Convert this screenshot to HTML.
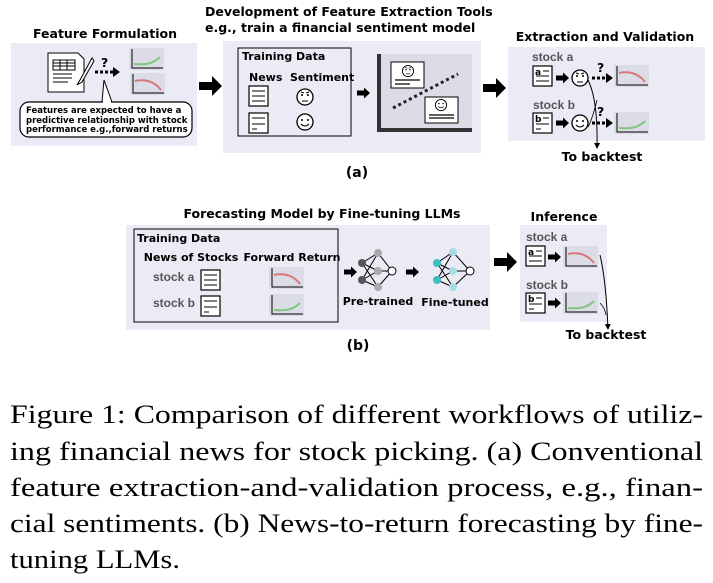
<!DOCTYPE html>
<html><head><meta charset="utf-8"><style>
html,body{margin:0;padding:0;background:#fff;width:713px;height:583px;overflow:hidden}
svg{display:block}
.t{font-family:"DejaVu Sans",sans-serif;font-weight:bold;font-size:12.5px;fill:#000}
.s{font-family:"Liberation Sans",sans-serif;font-weight:bold;font-size:12px;fill:#555}
.c{font-family:"Liberation Serif","Times New Roman",serif;font-size:26px;fill:#000}
</style></head><body>
<svg width="713" height="583" viewBox="0 0 713 583" xmlns="http://www.w3.org/2000/svg">
<defs>
<marker id="ah" markerWidth="6" markerHeight="6" refX="5" refY="3" orient="auto"><path d="M0,0L6,3L0,6z" fill="#000"/></marker>
<g id="doc"><rect x="0" y="0" width="19" height="20" fill="#fff" stroke="#000" stroke-width="1.2"/><line x1="3" y1="5" x2="16" y2="5" stroke="#000"/><line x1="3" y1="10" x2="16" y2="10" stroke="#000"/><line x1="3" y1="15" x2="16" y2="15" stroke="#000"/></g>
<g id="doc2"><rect x="0" y="0" width="19" height="20" fill="#fff" stroke="#000" stroke-width="1.2"/><line x1="3" y1="5" x2="16" y2="5" stroke="#000"/><line x1="3" y1="11" x2="16" y2="11" stroke="#000"/><line x1="3" y1="16" x2="8" y2="16" stroke="#000"/></g>
<g id="chd"><rect x="0" y="0" width="35" height="22" fill="#dcdce6"/><path d="M3,1V20H34" fill="none" stroke="#000" stroke-width="1"/><path d="M5,8C15,6 24,8 31,17" fill="none" stroke="#d9777a" stroke-width="2"/></g>
<g id="chu"><rect x="0" y="0" width="35" height="22" fill="#dcdce6"/><path d="M3,1V20H34" fill="none" stroke="#000" stroke-width="1"/><path d="M5,16C16,17 24,16 31,9" fill="none" stroke="#7fc77f" stroke-width="2"/></g>
<g id="sad"><circle cx="0" cy="0" r="8" fill="#fff" stroke="#000" stroke-width="1.3"/><circle cx="-3" cy="-2" r="1" fill="#000"/><circle cx="3" cy="-2" r="1" fill="#000"/><path d="M-4,-5L-1,-4M4,-5L1,-4M-3,4H3" stroke="#000" fill="none"/></g>
<g id="hap"><circle cx="0" cy="0" r="8" fill="#fff" stroke="#000" stroke-width="1.3"/><circle cx="-3" cy="-2" r="1" fill="#000"/><circle cx="3" cy="-2" r="1" fill="#000"/><path d="M-4,2Q0,6 4,2" stroke="#000" fill="none"/></g>
<g id="arr"><path d="M0,-2.5H7V-5.5L13,0L7,5.5V2.5H0z" fill="#000"/></g>
<g id="big"><path d="M0,-4H13V-10L23,0L13,10V4H0z" fill="#000"/></g>
</defs>

<text class="t" x="105" y="38" text-anchor="middle">Feature Formulation</text>
<rect x="11" y="43" width="186" height="103" fill="#ebebf6"/>
<path d="M48,53H78L84,59V92H48z" fill="#fff" stroke="#000"/>
<rect x="53" y="60" width="22" height="10" fill="#fff" stroke="#000"/>
<path d="M53,63H75M53,66H75M60,60V70M67,60V70M53,74H72M53,78H72M53,82H68" stroke="#000"/>
<path d="M92,58L80,80L77,85L82,82L94,61z" fill="#fff" stroke="#000"/>
<line x1="95" y1="72" x2="114" y2="72" stroke="#000" stroke-width="3" stroke-dasharray="3,2"/>
<path d="M113,67L120,72L113,77z" fill="#000"/>
<text class="t" x="101" y="67">?</text>
<use href="#chu" x="129" y="48"/>
<use href="#chd" x="130" y="73"/>
<path d="M102,102L104,80L112,102" fill="#fff" stroke="#000"/>
<rect x="20" y="102" width="172" height="35" rx="9" fill="#fff" stroke="#000" stroke-width="1.2"/>
<line x1="103" y1="102" x2="111" y2="102" stroke="#fff" stroke-width="2"/>
<text class="t" x="26" y="113" style="font-size:8.5px">Features are expected to have a</text>
<text class="t" x="26" y="123" style="font-size:8.5px">predictive relationship with stock</text>
<text class="t" x="26" y="132" style="font-size:8.5px">performance e.g.,forward returns</text>
<use href="#big" x="199" y="86"/>

<text class="t" x="205" y="16">Development of Feature Extraction Tools</text>
<text class="t" x="205" y="32">e.g., train a financial sentiment model</text>
<rect x="223" y="41" width="258" height="112" fill="#ebebf6"/>
<rect x="238" y="48" width="113" height="88" fill="none" stroke="#000"/>
<text class="t" x="242" y="60" style="font-size:11px">Training Data</text>
<text class="t" x="249" y="81" style="font-size:11px">News</text>
<text class="t" x="290" y="81" style="font-size:11px">Sentiment</text>
<use href="#doc" x="249" y="86"/>
<use href="#doc2" x="249" y="113"/>
<use href="#sad" x="305" y="97"/>
<use href="#hap" x="305" y="122"/>
<use href="#arr" x="357" y="93"/>
<rect x="377" y="54" width="95" height="78" fill="#dcdce6"/>
<path d="M379,54V130H472" fill="none" stroke="#333" stroke-width="4"/>
<rect x="391" y="62" width="33" height="26" fill="#fff" stroke="#000"/>
<use href="#sad" x="408" y="71" transform="translate(408 71) scale(0.7) translate(-408 -71)"/>
<path d="M395,80H420M395,84H410" stroke="#000" stroke-width="1.3"/>
<rect x="425" y="97" width="33" height="26" fill="#fff" stroke="#000"/>
<use href="#hap" x="441" y="105" transform="translate(441 105) scale(0.7) translate(-441 -105)"/>
<path d="M429,115H454M429,118H454" stroke="#000" stroke-width="1.3"/>
<line x1="393" y1="108" x2="458" y2="74" stroke="#222" stroke-width="3" stroke-dasharray="3,3"/>
<use href="#big" x="483" y="88"/>

<text class="t" x="605" y="41" text-anchor="middle">Extraction and Validation</text>
<rect x="508" y="47" width="197" height="94" fill="#ebebf6"/>
<text class="s" x="532" y="61">stock a</text>
<use href="#doc" x="533" y="66"/><rect x="535" y="67" width="8" height="8" fill="#fff"/><text class="t" x="535" y="75" style="font-size:9px">a</text>
<use href="#arr" x="556" y="78"/>
<use href="#sad" x="580" y="78"/>
<line x1="592" y1="78" x2="607" y2="78" stroke="#000" stroke-width="3" stroke-dasharray="3,2"/>
<path d="M606,73L613,78L606,83z" fill="#000"/>
<text class="t" x="597" y="72">?</text>
<use href="#chd" x="614" y="65"/>
<text class="s" x="533" y="109">stock b</text>
<use href="#doc2" x="533" y="113"/><rect x="535" y="114" width="8" height="8" fill="#fff"/><text class="t" x="535" y="122" style="font-size:9px">b</text>
<use href="#arr" x="556" y="123"/>
<use href="#hap" x="580" y="123"/>
<line x1="592" y1="123" x2="607" y2="123" stroke="#000" stroke-width="3" stroke-dasharray="3,2"/>
<path d="M606,118L613,123L606,128z" fill="#000"/>
<text class="t" x="597" y="116">?</text>
<use href="#chu" x="614" y="112"/>
<path d="M588,80Q598,100 597,148" fill="none" stroke="#000" marker-end="url(#ah)"/>
<path d="M588,127Q592,120 597,100" fill="none" stroke="#000" stroke-width="0.8"/>
<text class="t" x="602" y="161" text-anchor="middle">To backtest</text>
<text class="t" x="357" y="177" text-anchor="middle" style="font-size:14px">(a)</text>

<text class="t" x="322" y="218" text-anchor="middle">Forecasting Model by Fine-tuning LLMs</text>
<rect x="126" y="225" width="364" height="105" fill="#ebebf6"/>
<rect x="134" y="229" width="204" height="93" fill="none" stroke="#000"/>
<text class="t" x="137" y="242" style="font-size:11px">Training Data</text>
<text class="t" x="191" y="261" text-anchor="middle" style="font-size:11px">News of Stocks</text>
<text class="t" x="292" y="261" text-anchor="middle" style="font-size:11px">Forward Return</text>
<text class="s" x="153" y="281">stock a</text>
<use href="#doc" x="201" y="270"/>
<use href="#chd" x="269" y="267"/>
<text class="s" x="153" y="307">stock b</text>
<use href="#doc2" x="201" y="296"/>
<use href="#chu" x="269" y="294"/>
<use href="#arr" x="344" y="272"/>
<g stroke="#000" stroke-width="1">
<path d="M362,263L378,253M362,263L378,271M362,263L378,287M362,280L378,253M362,280L378,271M362,280L378,287M378,253L392,271M378,271L392,271M378,287L392,271"/>
<path d="M437,263L453,252M437,263L453,271M437,263L453,287M437,280L453,252M437,280L453,271M437,280L453,287M453,252L470,271M453,271L470,271M453,287L470,271"/>
</g>
<circle cx="362" cy="263" r="4" fill="#555"/><circle cx="362" cy="280" r="4" fill="#555"/>
<circle cx="378" cy="253" r="4" fill="#aaa"/><circle cx="378" cy="271" r="4" fill="#aaa"/><circle cx="378" cy="287" r="4" fill="#aaa"/>
<circle cx="392" cy="271" r="4" fill="#fff" stroke="#000"/>
<circle cx="437" cy="263" r="4" fill="#3bbfbf"/><circle cx="437" cy="280" r="4" fill="#3bbfbf"/>
<circle cx="453" cy="252" r="4" fill="#a8dde6"/><circle cx="453" cy="271" r="4" fill="#a8dde6"/><circle cx="453" cy="287" r="4" fill="#a8dde6"/>
<circle cx="470" cy="271" r="4" fill="#fff" stroke="#000"/>
<use href="#arr" x="406" y="272"/>
<text class="t" x="378" y="305" text-anchor="middle" style="font-size:11px">Pre-trained</text>
<text class="t" x="455" y="306" text-anchor="middle" style="font-size:11px">Fine-tuned</text>
<use href="#big" x="494" y="262"/>
<text class="t" x="564" y="221" text-anchor="middle">Inference</text>
<rect x="520" y="225" width="87" height="97" fill="#ebebf6"/>
<text class="s" x="526" y="241">stock a</text>
<use href="#doc" x="526" y="246"/><rect x="528" y="247" width="8" height="8" fill="#fff"/><text class="t" x="528" y="255" style="font-size:9px">a</text>
<use href="#arr" x="548" y="257"/>
<use href="#chd" x="563" y="246"/>
<text class="s" x="526" y="289">stock b</text>
<use href="#doc2" x="526" y="293"/><rect x="528" y="294" width="8" height="8" fill="#fff"/><text class="t" x="528" y="302" style="font-size:9px">b</text>
<use href="#arr" x="548" y="303"/>
<use href="#chu" x="563" y="292"/>
<path d="M600,255Q606,280 608,329" fill="none" stroke="#000" marker-end="url(#ah)"/>
<path d="M600,303Q605,308 606,315" fill="none" stroke="#000" stroke-width="0.8"/>
<text class="t" x="606" y="339" text-anchor="middle">To backtest</text>
<text class="t" x="358" y="350" text-anchor="middle" style="font-size:14px">(b)</text>

<text class="c" x="10" y="423" textLength="693" lengthAdjust="spacingAndGlyphs">Figure 1: Comparison of different workflows of utiliz-</text>
<text class="c" x="10" y="460" textLength="693" lengthAdjust="spacingAndGlyphs">ing financial news for stock picking. (a) Conventional</text>
<text class="c" x="10" y="496" textLength="693" lengthAdjust="spacingAndGlyphs">feature extraction-and-validation process, e.g., finan-</text>
<text class="c" x="10" y="532" textLength="693" lengthAdjust="spacingAndGlyphs">cial sentiments. (b) News-to-return forecasting by fine-</text>
<text class="c" x="10" y="568" textLength="170" lengthAdjust="spacingAndGlyphs">tuning LLMs.</text>
</svg>
</body></html>
